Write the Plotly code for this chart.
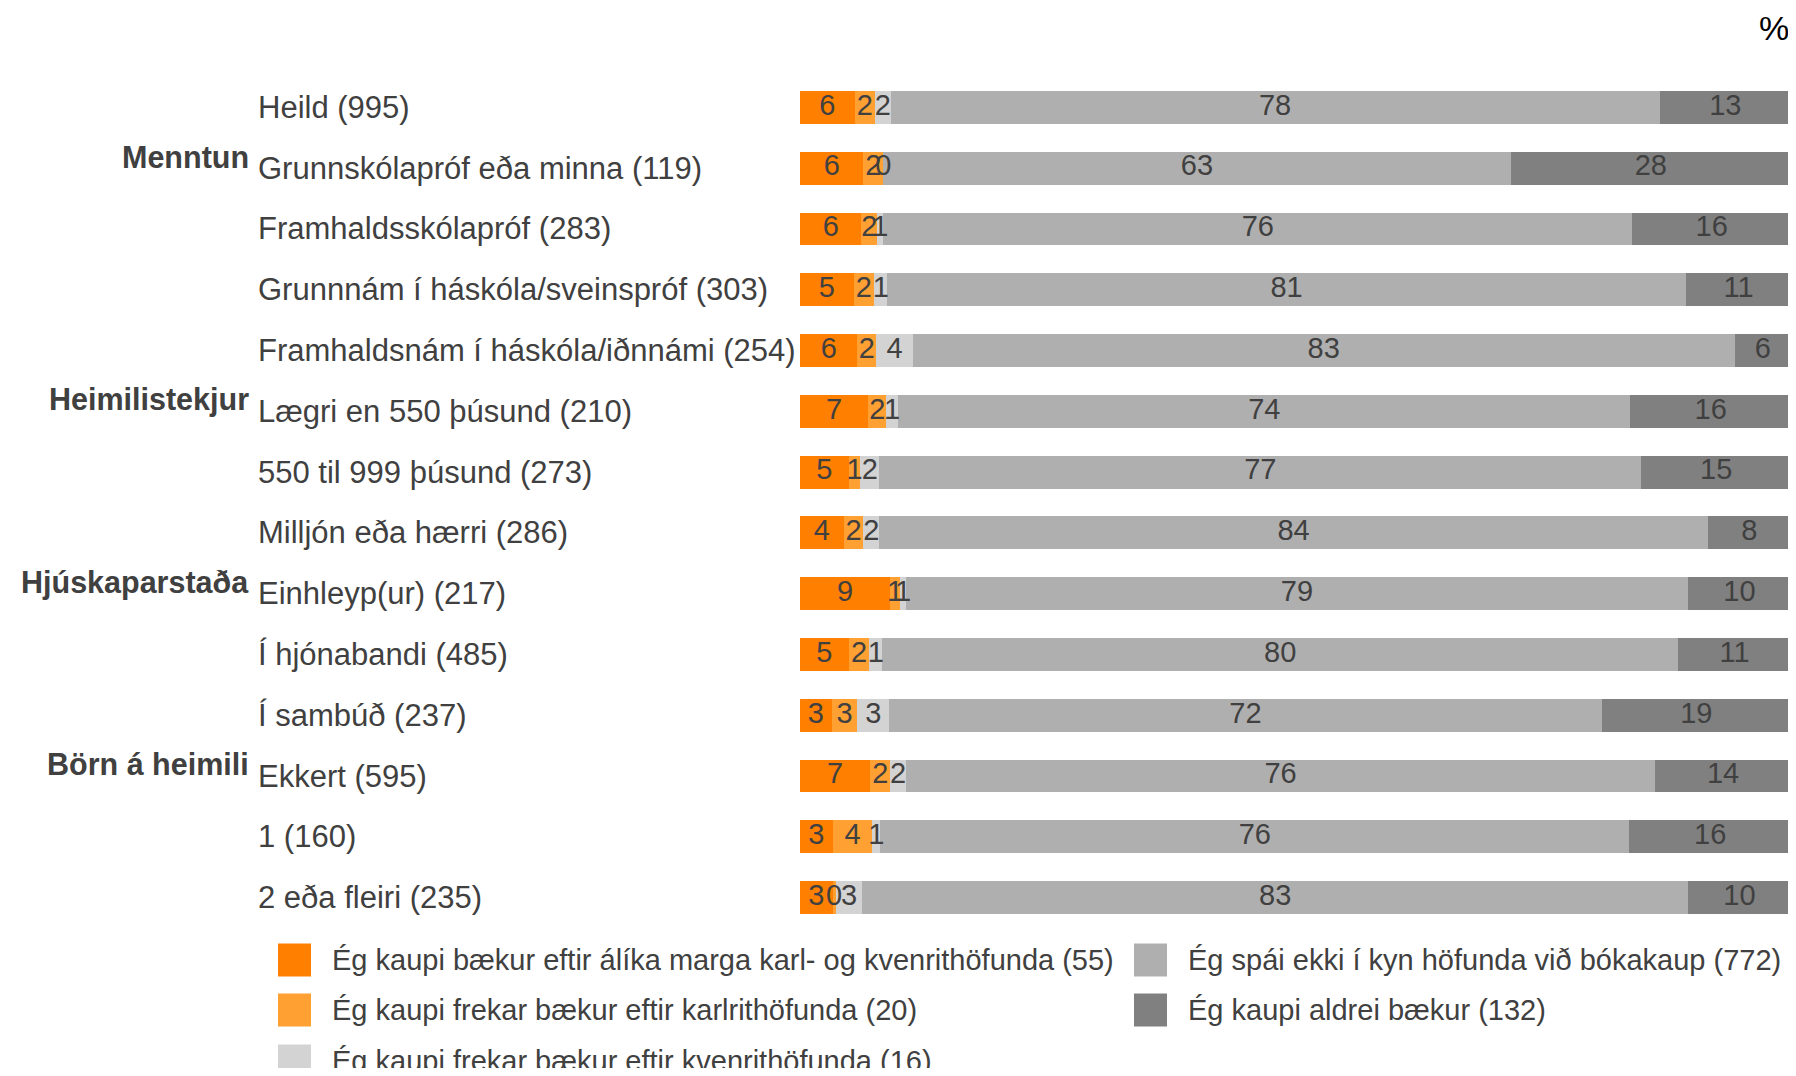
import plotly.graph_objects as go

# ---------------- data ----------------
categories = [
    "Heild (995)",
    "Grunnskólapróf eða minna (119)",
    "Framhaldsskólapróf (283)",
    "Grunnnám í háskóla/sveinspróf (303)",
    "Framhaldsnám í háskóla/iðnnámi (254)",
    "Lægri en 550 þúsund (210)",
    "550 til 999 þúsund (273)",
    "Milljón eða hærri (286)",
    "Einhleyp(ur) (217)",
    "Í hjónabandi (485)",
    "Í sambúð (237)",
    "Ekkert (595)",
    "1 (160)",
    "2 eða fleiri (235)",
]
group_labels = ["Menntun", "Heimilistekjur", "Hjúskaparstaða", "Börn á heimili"]
group_rows = [1, 5, 8, 11]

s_equal = [5.53, 6.4, 6.2, 5.4, 5.8, 6.9, 4.9, 4.4, 9.1, 4.9, 3.2, 7.1, 3.3, 3.3]
s_male = [2.01, 2.0, 1.6, 2.1, 1.9, 1.8, 1.2, 2.0, 1.0, 2.1, 2.6, 2.0, 4.0, 0.3]
s_female = [1.61, 0.0, 0.6, 1.3, 3.7, 1.2, 1.9, 1.6, 0.6, 1.3, 3.2, 1.6, 0.8, 2.7]
s_none = [77.59, 63.3, 75.6, 80.6, 82.9, 73.9, 76.9, 83.6, 78.9, 80.3, 71.9, 75.6, 75.6, 83.3]
s_never = [13.27, 28.3, 16.0, 10.6, 5.7, 16.2, 15.1, 8.4, 10.4, 11.4, 19.1, 13.7, 16.3, 10.4]

series_names = [
    "Ég kaupi bækur eftir álíka marga karl- og kvenrithöfunda (55)",
    "Ég kaupi frekar bækur eftir karlrithöfunda (20)",
    "Ég kaupi frekar bækur eftir kvenrithöfunda (16)",
    "Ég spái ekki í kyn höfunda við bókakaup (772)",
    "Ég kaupi aldrei bækur (132)",
]
series_colors = ["#FF8000", "#FFA033", "#D3D3D3", "#AFAFAF", "#808080"]
series_values = [s_equal, s_male, s_female, s_none, s_never]

# ---------------- layout constants ----------------
# the page body has an 8px margin; the figure is sized so that
# page coordinates (target) = figure coordinates + OFF
OFF = 8
W, H = 1796 - OFF, 1076 - 2 * OFF
TOP, BOTTOM = 77, 928            # plot area in page px
M_T = TOP - OFF
M_B = H - (BOTTOM - OFF)
PLOT_H = BOTTOM - TOP
FONT = "Liberation Sans, Arial, sans-serif"
TXT = "#404040"


def px(x):  # page x -> paper
    return (x - OFF) / W


def py(y):  # page y -> paper
    return (BOTTOM - y) / PLOT_H


fig = go.Figure()
for name, color, vals in zip(series_names, series_colors, series_values):
    fig.add_trace(go.Bar(
        y=categories, x=vals, name=name, orientation="h",
        marker=dict(color=color, line=dict(width=0)),
        width=0.54,
        textposition="none",
        showlegend=False,
        hoverinfo="skip",
    ))

# value labels on top of all bars, centred in each segment
lab_x, lab_y, lab_t = [], [], []
for i, c in enumerate(categories):
    cum = 0.0
    for vals in series_values:
        v = vals[i]
        lab_x.append(cum + v / 2)
        lab_y.append(c)
        lab_t.append(f"{v:.0f}")
        cum += v
fig.add_trace(go.Scatter(
    x=lab_x, y=lab_y, text=lab_t, mode="text",
    textposition="middle center",
    textfont=dict(family=FONT, size=29, color=TXT),
    cliponaxis=False, showlegend=False, hoverinfo="skip",
))

annotations = []
# category labels
for c in categories:
    annotations.append(dict(
        x=px(256), xref="paper", xanchor="left",
        y=c, yref="y", yanchor="middle",
        text=c, showarrow=False,
        font=dict(family=FONT, size=31, color=TXT),
    ))
# group labels
for g, r in zip(group_labels, group_rows):
    annotations.append(dict(
        x=px(251), xref="paper", xanchor="right",
        y=r - 0.19, yref="y", yanchor="middle",
        text=f"<b>{g}</b>", showarrow=False,
        font=dict(family=FONT, size=30.5, color=TXT),
    ))
# percent sign
annotations.append(dict(
    x=px(1791), xref="paper", xanchor="right",
    y=py(28), yref="paper", yanchor="middle",
    text="%", showarrow=False,
    font=dict(family=FONT, size=34, color="#000000"),
))

# manual legend (column-wise like the reference)
legend_pos = [(278, 960), (278, 1010), (278, 1061), (1134, 960), (1134, 1010)]
shapes = []
for (lx, ly), name, color in zip(legend_pos, series_names, series_colors):
    shapes.append(dict(
        type="rect", xref="paper", yref="paper",
        x0=px(lx), x1=px(lx + 33),
        y0=py(ly + 16.5), y1=py(ly - 16.5),
        fillcolor=color, line=dict(width=0),
    ))
    annotations.append(dict(
        x=px(lx + 52), xref="paper", xanchor="left",
        y=py(ly), yref="paper", yanchor="middle",
        text=name, showarrow=False,
        font=dict(family=FONT, size=29, color=TXT),
    ))

fig.update_layout(
    width=W, height=H,
    margin=dict(t=M_T, b=M_B, l=0, r=0, pad=0),
    barmode="stack",
    paper_bgcolor="white", plot_bgcolor="white",
    xaxis=dict(domain=[px(800), min(1.0, px(1791))], range=[0, 100],
               visible=False, fixedrange=True),
    yaxis=dict(type="category", categoryorder="array", categoryarray=categories,
               range=[len(categories) - 0.5, -0.5], visible=False, fixedrange=True),
    annotations=annotations,
    shapes=shapes,
    showlegend=False,
    font=dict(family=FONT),
)

fig.write_html("out.html")
